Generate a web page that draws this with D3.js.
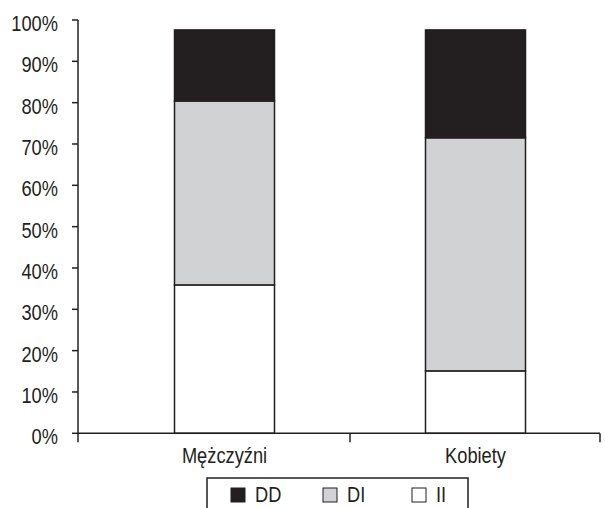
<!DOCTYPE html>
<html><head><meta charset="utf-8">
<script src="https://cdn.jsdelivr.net/npm/d3@7"></script>
<style>
body{margin:0;background:#fff;}
svg{display:block;}
text{font-family:"Liberation Sans",Arial,sans-serif;fill:#231f20;}
</style></head>
<body>
<svg id="c" width="605" height="508"></svg>
<script>
const categories = ["Mężczyźni", "Kobiety"];
const seriesNames = ["II", "DI", "DD"];
const valuesII = [35.9, 15.1];
const valuesDI = [44.5, 56.4];
const valuesDD = [17.2, 26.1];
const yTicks = [0, 10, 20, 30, 40, 50, 60, 70, 80, 90, 100];
const legendOrder = ["DD", "DI", "II"];
const colors = {DD: "#231f20", DI: "#d1d2d4", II: "#ffffff"};
const ink = "#231f20";
const squeeze = 0.83;

const svg = d3.select("#c");
const y = d3.scaleLinear().domain([0, 100]).range([433.3, 20]);
const xAxisLeft = 78, xAxisRight = 600;
const x = d3.scaleBand().domain(categories).range([99, 601]).paddingInner(0).paddingOuter(0);
const barW = 100;

function label(g, tx, ty, str, anchor) {
  return g.append("text")
    .attr("transform", `translate(${tx},${ty}) scale(${squeeze},1)`)
    .attr("text-anchor", anchor || "start")
    .attr("font-size", 22)
    .text(str);
}

const rows = categories.map((c, i) => ({cat: c, II: valuesII[i], DI: valuesDI[i], DD: valuesDD[i]}));
const stacked = d3.stack().keys(seriesNames)(rows);

// bars
stacked.forEach(layer => {
  svg.append("g").selectAll("rect").data(layer).join("rect")
    .attr("x", d => x(d.data.cat) + x.bandwidth() / 2 - barW / 2)
    .attr("width", barW)
    .attr("y", d => y(d[1]))
    .attr("height", d => y(d[0]) - y(d[1]))
    .attr("fill", colors[layer.key])
    .attr("stroke", ink)
    .attr("stroke-width", 1.5);
});

// y axis
const ya = svg.append("g");
ya.append("line").attr("x1", xAxisLeft).attr("x2", xAxisLeft).attr("y1", y(100)).attr("y2", y(0) + 9)
  .attr("stroke", ink).attr("stroke-width", 1.5);
yTicks.forEach(t => {
  ya.append("line").attr("x1", 72).attr("x2", xAxisLeft).attr("y1", y(t)).attr("y2", y(t))
    .attr("stroke", ink).attr("stroke-width", 1.5);
  label(ya, 58, y(t) + 11, t + "%", "end");
});

// x axis
const xa = svg.append("g");
xa.append("line").attr("x1", xAxisLeft).attr("x2", xAxisRight).attr("y1", y(0)).attr("y2", y(0))
  .attr("stroke", ink).attr("stroke-width", 1.5);
const bounds = categories.slice(1).map(c => x(c)).concat([xAxisRight]);
bounds.forEach(b => {
  xa.append("line").attr("x1", b).attr("x2", b).attr("y1", y(0)).attr("y2", y(0) + 9)
    .attr("stroke", ink).attr("stroke-width", 1.5);
});
categories.forEach(c => {
  label(xa, x(c) + x.bandwidth() / 2, 463, c, "middle");
});

// legend
const lg = svg.append("g");
lg.append("rect").attr("x", 207).attr("y", 478).attr("width", 261).attr("height", 40)
  .attr("fill", "#fff").attr("stroke", ink).attr("stroke-width", 1.5);
const legX = [231, 323, 412];
legendOrder.forEach((k, i) => {
  lg.append("rect").attr("x", legX[i]).attr("y", 488).attr("width", 14).attr("height", 14)
    .attr("fill", colors[k]).attr("stroke", ink).attr("stroke-width", 1);
  label(lg, legX[i] + 24, 502, k, "start");
});
</script>
</body></html>
